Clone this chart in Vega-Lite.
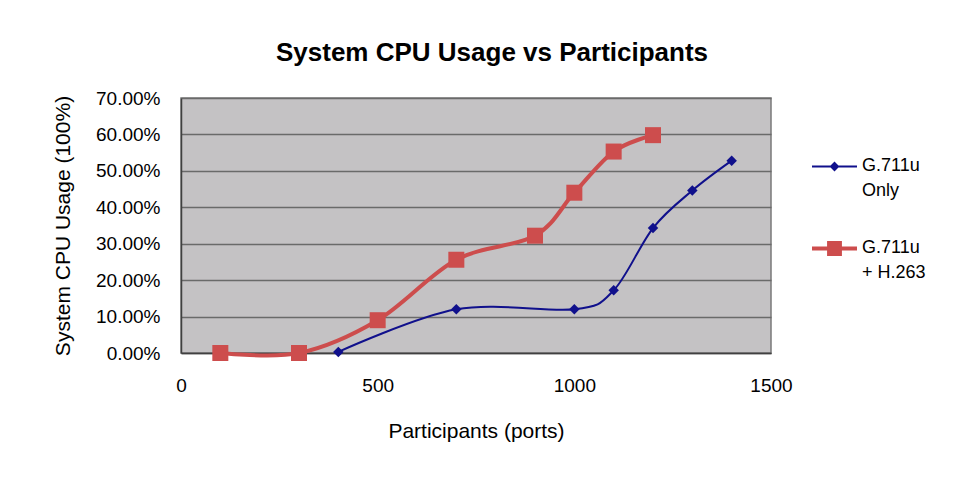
{
  "$schema": "https://vega.github.io/schema/vega-lite/v6.json",
  "width": 590,
  "height": 255,
  "autosize": {"type": "none"},
  "padding": {"left": 181, "top": 98, "right": 203, "bottom": 124},
  "background": "white",
  "config": {
    "font": "Liberation Sans",
    "view": {"fill": "#C4C2C4", "stroke": "#7A7A7A", "strokeWidth": 1.5}
  },
  "title": {
    "text": "System CPU Usage vs Participants",
    "font": "Liberation Sans",
    "fontSize": 26,
    "fontWeight": "bold",
    "color": "#000000",
    "anchor": "middle",
    "dx": 16,
    "offset": 23
  },
  "data": {
    "values": [
      {"participants": 400, "usage": 0.003, "series": "G.711u Only"},
      {"participants": 700, "usage": 0.12, "series": "G.711u Only"},
      {"participants": 1000, "usage": 0.12, "series": "G.711u Only"},
      {"participants": 1100, "usage": 0.172, "series": "G.711u Only"},
      {"participants": 1200, "usage": 0.343, "series": "G.711u Only"},
      {"participants": 1300, "usage": 0.446, "series": "G.711u Only"},
      {"participants": 1400, "usage": 0.528, "series": "G.711u Only"},
      {"participants": 100, "usage": 0.0, "series": "G.711u + H.263"},
      {"participants": 300, "usage": 0.0, "series": "G.711u + H.263"},
      {"participants": 500, "usage": 0.09, "series": "G.711u + H.263"},
      {"participants": 700, "usage": 0.256, "series": "G.711u + H.263"},
      {"participants": 900, "usage": 0.322, "series": "G.711u + H.263"},
      {"participants": 1000, "usage": 0.44, "series": "G.711u + H.263"},
      {"participants": 1100, "usage": 0.553, "series": "G.711u + H.263"},
      {"participants": 1200, "usage": 0.598, "series": "G.711u + H.263"}
    ]
  },
  "encoding": {
    "x": {
      "field": "participants",
      "type": "quantitative",
      "scale": {"domain": [0, 1500], "nice": false, "zero": false},
      "axis": {
        "title": "Participants (ports)",
        "format": "d",
        "values": [0, 500, 1000, 1500],
        "labelFlush": false,
        "grid": false,
        "ticks": false,
        "domain": true,
        "domainColor": "#404040",
        "domainWidth": 1.5,
        "labelFont": "Liberation Sans",
        "labelFontSize": 19,
        "labelColor": "#000000",
        "labelPadding": 23,
        "titleFont": "Liberation Sans",
        "titleFontSize": 21,
        "titleFontWeight": "normal",
        "titleColor": "#000000",
        "titlePadding": 25
      }
    },
    "y": {
      "field": "usage",
      "type": "quantitative",
      "scale": {"domain": [0, 0.7], "nice": false},
      "axis": {
        "title": "System CPU Usage (100%)",
        "format": ".2%",
        "values": [0, 0.1, 0.2, 0.3, 0.4, 0.5, 0.6, 0.7],
        "grid": true,
        "gridColor": "#6A6A6A",
        "gridWidth": 1.5,
        "ticks": false,
        "domain": true,
        "domainColor": "#404040",
        "domainWidth": 1.5,
        "labelFont": "Liberation Sans",
        "labelFontSize": 19,
        "labelColor": "#000000",
        "labelPadding": 21,
        "titleFont": "Liberation Sans",
        "titleFontSize": 21,
        "titleFontWeight": "normal",
        "titleColor": "#000000",
        "titlePadding": 22
      }
    },
    "color": {
      "field": "series",
      "type": "nominal",
      "scale": {"domain": ["G.711u Only", "G.711u + H.263"], "range": ["#10108C", "#CD4D4D"]},
      "legend": {
        "title": null,
        "orient": "none",
        "legendX": 631,
        "legendY": 46,
        "symbolSize": 2025,
        "symbolStrokeWidth": 0,
        "labelFont": "Liberation Sans",
        "labelFontSize": 18,
        "labelColor": "#000000",
        "labelOffset": 5,
        "labelBaseline": "top",
        "rowPadding": 26,
        "labelExpr": "datum.value === 'G.711u Only' ? ['G.711u', 'Only'] : ['G.711u', '+ H.263']",
        "labelLimit": 200,
        "encode": {
          "symbols": {
            "update": {
              "shape": {"signal": "datum.value === 'G.711u Only' ? 'M-1,-0.045H1V0.045H-1Z M0,-0.22L0.22,0L0,0.22L-0.22,0Z' : 'M-1,-0.085H1V0.085H-1Z M-0.33,-0.33H0.33V0.33H-0.33Z'"},
              "fill": {"signal": "datum.value === 'G.711u Only' ? '#10108C' : '#CD4D4D'"},
              "strokeWidth": {"value": 0},
              "opacity": {"value": 1}
            }
          },
          "labels": {
            "update": {"dy": {"value": -10}, "lineHeight": {"value": 25}}
          }
        }
      }
    }
  },
  "layer": [
    {
      "transform": [{"filter": "datum.series === 'G.711u + H.263'"}],
      "mark": {"type": "line", "interpolate": "cardinal", "strokeWidth": 4}
    },
    {
      "transform": [{"filter": "datum.series === 'G.711u Only'"}],
      "mark": {"type": "line", "interpolate": "cardinal", "strokeWidth": 2}
    },
    {
      "transform": [{"filter": "datum.series === 'G.711u + H.263'"}],
      "mark": {"type": "point", "shape": "square", "filled": true, "size": 256, "opacity": 1}
    },
    {
      "transform": [{"filter": "datum.series === 'G.711u Only'"}],
      "mark": {"type": "point", "shape": "diamond", "filled": true, "size": 110, "opacity": 1}
    }
  ]
}
